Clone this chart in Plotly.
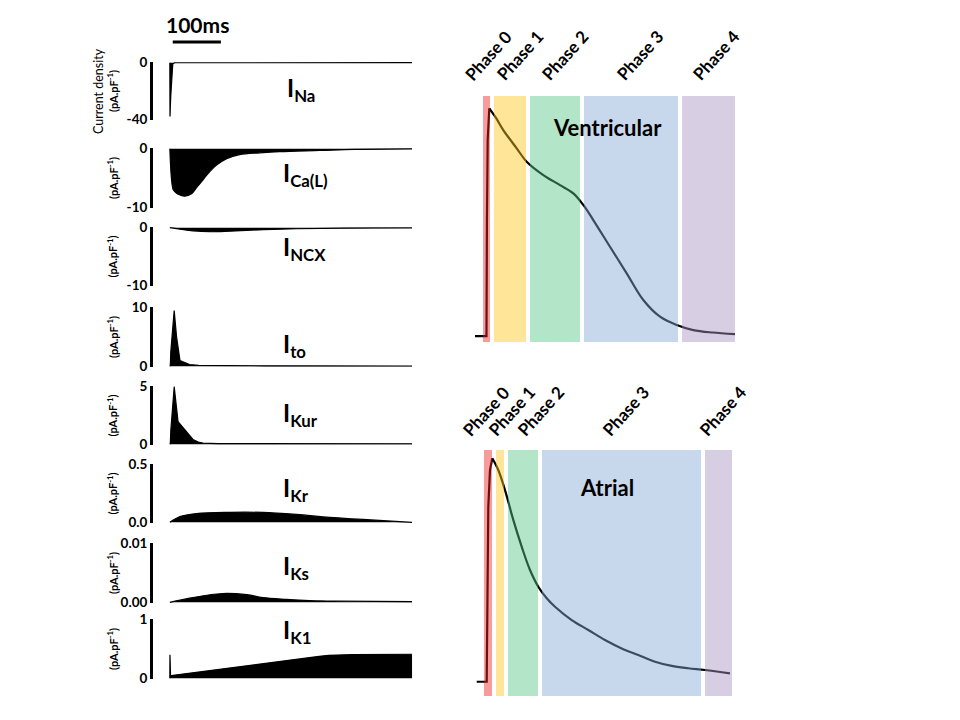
import plotly.graph_objects as go

FONT = "Lato"
W, H = 960, 720

# ---------------- data: membrane currents (pA/pF) vs time (ms) ----------------
t_na = [0, 0.3, 1, 2, 3, 4.5, 6, 10, 100, 200, 300, 400, 503]
i_na = [0, -38, -31, -23, -15, -7, -1, -0.05, 0, 0, 0, 0, 0]

t_ca = [0, 1, 3, 5, 7, 14, 21, 31, 45, 55, 69, 83, 97, 118, 145, 187, 228, 312, 384, 503]
i_ca = [0, -2.0, -4.8, -6.3, -7.0, -7.6, -7.9, -8.1, -7.7, -6.7, -5.3, -3.9, -2.8, -1.7, -1.0, -0.7, -0.5, -0.3, -0.12, -0.04]

t_ncx = [0, 21, 48, 83, 125, 194, 263, 367, 503]
i_ncx = [0, -0.25, -0.55, -0.7, -0.6, -0.35, -0.18, -0.08, -0.03]

t_to = [0, 1, 2, 9, 14, 21, 26, 31, 41, 60, 100, 200, 300, 400, 503]
i_to = [0, 0.2, 2.5, 9.5, 5.0, 1.0, 0.8, 0.6, 0.3, 0.15, 0.1, 0.08, 0.06, 0.05, 0.05]

t_kur = [0, 1, 2, 9, 17, 28, 38, 48, 59, 69, 100, 200, 300, 400, 503]
i_kur = [0, 0.1, 1.2, 5.0, 1.97, 1.41, 0.85, 0.42, 0.2, 0.1, 0.06, 0.05, 0.05, 0.05, 0.05]

t_kr = [0, 21, 55, 125, 193, 263, 332, 401, 503]
i_kr = [0, 0.05, 0.076, 0.087, 0.086, 0.068, 0.042, 0.025, 0.0]

t_ks = [0, 41, 77, 110, 160, 193, 243, 290, 350, 503]
i_ks = [0, 0.0007, 0.0012, 0.0015, 0.0013, 0.0008, 0.0005, 0.0003, 0.0002, 0.0001]

t_k1 = [0, 0.2, 1.5, 7, 90, 159, 228, 280, 310, 330, 350, 380, 503]
i_k1 = [0, 0.4, 0.04, 0.05, 0.14, 0.22, 0.29, 0.345, 0.375, 0.392, 0.40, 0.405, 0.41]

current_names = ["Na", "Ca(L)", "NCX", "to", "Kur", "Kr", "Ks", "K1"]
y_ranges = [[-40, 0], [-10, 0], [-10, 0], [0, 10], [0, 5], [0, 0.5], [0, 0.01], [0, 1]]
tick_vals = [[-40, 0], [-10, 0], [-10, 0], [0, 10], [0, 5], [0, 0.5], [0, 0.01], [0, 1]]
tick_text = [["-40", "0"], ["-10", "0"], ["-10", "0"], ["0", "10"], ["0", "5"],
             ["0.0", "0.5"], ["0.00", "0.01"], ["0", "1"]]

scale_bar_ms = 100
scale_bar_start = 6

# ---------------- data: action potentials (mV) vs time (ms) ----------------
t_vent = [-22.8, 1.0, 2.0, 3.5, 6.9, 20.8, 35.9, 63.8, 84.5, 119, 153.7, 181.3, 202.1,
          222.8, 257.5, 292.2, 326.7, 361.4, 396.1, 430.5, 470, 517.1]
v_vent = [-86.6, -86.6, -20, 25, 43.0, 37.5, 30.6, 20.2, 12.6, 5.0, -0.7, -5.4, -12.0,
          -20.6, -35.8, -50.9, -66.1, -75.6, -80.3, -83.2, -84.6, -85.5]
vent_peak_index = 4

t_atr = [-19.3, 1.5, 3.2, 4.8, 8.3, 13.1, 25.5, 39.5, 56.7, 74.1, 91.4, 108.6, 126.1,
         143.3, 178, 212.5, 247.1, 281.8, 316.3, 351, 385.7, 420.1, 454.8, 506.7]
v_atr = [-81.9, -81.9, -30, 17.7, 38.6, 45.3, 38.6, 27.2, 10.2, -5.0, -18.3, -27.8, -34.4,
         -39.2, -46.8, -52.4, -58.1, -62.9, -66.7, -70.5, -72.9, -74.2, -75.2, -77.1]
atr_peak_index = 5

phase_labels = ["Phase 0", "Phase 1", "Phase 2", "Phase 3", "Phase 4"]
vent_phase_start = [-6.2, 16.6, 91.4, 203.5, 407.1]
vent_phase_end = [8.3, 83.1, 195.2, 398.8, 517.1]
atr_phase_start = [-4.2, 20.8, 45.7, 116.3, 454.8]
atr_phase_end = [12.5, 37.4, 108.0, 446.5, 510.9]

# ---------------- styling ----------------
phase_colors = ["rgb(237,33,33)", "rgb(253,197,24)", "rgb(86,199,135)",
                "rgb(133,168,213)", "rgb(168,146,193)"]
band_opacity = 0.45


def pxx(x):
    return x / W


def pxy(y):
    return 1 - y / H


panel_top = [62, 148, 227, 307, 386, 464, 543, 619]
panel_bot = [120, 208, 286, 367, 445, 523, 603, 679]
label_y = [89, 174, 248, 345, 415, 489, 567, 631]
label_x = [285, 281, 281, 281, 281, 281, 281, 281]
shapes_line = ["linear", "spline", "spline", "linear", "linear", "spline", "spline", "linear"]

series_t = [t_na, t_ca, t_ncx, t_to, t_kur, t_kr, t_ks, t_k1]
series_v = [i_na, i_ca, i_ncx, i_to, i_kur, i_kr, i_ks, i_k1]

fig = go.Figure()
layout = dict(width=W, height=H, margin=dict(l=0, r=0, t=0, b=0, pad=0, autoexpand=False),
              paper_bgcolor="white", plot_bgcolor="white", showlegend=False,
              font=dict(family=FONT, color="black"))
annotations = []
shapes = []

for k in range(8):
    n = k + 1
    sfx = "" if n == 1 else str(n)
    fig.add_trace(go.Scatter(
        x=series_t[k], y=series_v[k], mode="lines", fill="tozeroy",
        line=dict(color="black", width=1.2, shape=shapes_line[k]),
        fillcolor="black", xaxis="x" + sfx, yaxis="y" + sfx, hoverinfo="skip"))
    lo, hi = y_ranges[k]
    pad = 0.012 * (hi - lo)
    layout["xaxis" + sfx] = dict(domain=[pxx(153), pxx(413)], range=[-35, 505],
                                 visible=False, anchor="y" + sfx, fixedrange=True,
                                 automargin=False)
    layout["yaxis" + sfx] = dict(
        domain=[pxy(panel_bot[k]), pxy(panel_top[k])], range=[lo - pad, hi + pad],
        anchor="x" + sfx, showline=True, linewidth=3, linecolor="black",
        ticks="inside", ticklen=7, tickwidth=3, tickcolor="black",
        tickvals=tick_vals[k], ticktext=tick_text[k],
        tickfont=dict(family=FONT, size=13.5, color="black", weight="bold"),
        showgrid=False, zeroline=False, fixedrange=True, automargin=False)
    annotations.append(dict(
        text="I<sub>%s</sub>" % current_names[k], x=pxx(label_x[k]), y=pxy(label_y[k]),
        xref="paper", yref="paper", xanchor="left", yanchor="middle", showarrow=False,
        font=dict(family=FONT, size=24, color="black", weight="bold")))
    annotations.append(dict(
        text="(pA.pF<sup>-1</sup>)", x=pxx(112), y=pxy((panel_top[k] + panel_bot[k]) / 2),
        xref="paper", yref="paper", xanchor="center", yanchor="middle", showarrow=False,
        textangle=-90, font=dict(family=FONT, size=11, color="black", weight="bold")))

annotations.append(dict(
    text="Current density", x=pxx(98), y=pxy(91), xref="paper", yref="paper",
    xanchor="center", yanchor="middle", showarrow=False, textangle=-90,
    font=dict(family=FONT, size=12.5, color="black")))

# scale bar
shapes.append(dict(type="line", xref="x", yref="paper",
                   x0=scale_bar_start, x1=scale_bar_start + scale_bar_ms,
                   y0=pxy(42), y1=pxy(42), line=dict(color="black", width=3)))
annotations.append(dict(
    text="%dms" % scale_bar_ms, x=pxx(197), y=pxy(25), xref="paper", yref="paper",
    xanchor="center", yanchor="middle", showarrow=False,
    font=dict(family=FONT, size=21, color="black", weight="bold")))

# action potentials
ap_sets = [
    (t_vent, v_vent, vent_peak_index, vent_phase_start, vent_phase_end, 96, 342,
     "Ventricular", [488.5, 520, 565, 640, 716], 56, 127),
    (t_atr, v_atr, atr_peak_index, atr_phase_start, atr_phase_end, 450, 696,
     "Atrial", [485.5, 511, 540, 625, 722], 411, 487),
]
for j, (tt, vv, pk, ps, pe, ytop, ybot, title, lab_xs, lab_y, title_y) in enumerate(ap_sets):
    n = 9 + j
    sfx = str(n)
    # resting + upstroke (sharp) then repolarisation (smooth)
    fig.add_trace(go.Scatter(
        x=tt[:pk + 1], y=vv[:pk + 1], mode="lines",
        line=dict(color="black", width=2.2, shape="linear"),
        xaxis="x" + sfx, yaxis="y" + sfx, hoverinfo="skip"))
    fig.add_trace(go.Scatter(
        x=tt[pk:], y=vv[pk:], mode="lines",
        line=dict(color="black", width=2.2, shape="spline", smoothing=1.0),
        xaxis="x" + sfx, yaxis="y" + sfx, hoverinfo="skip"))
    layout["xaxis" + sfx] = dict(domain=[pxx(474), pxx(740)], range=[-24.9, 527.5],
                                 visible=False, anchor="y" + sfx, fixedrange=True,
                                 automargin=False)
    layout["yaxis" + sfx] = dict(domain=[pxy(ybot), pxy(ytop)], range=[-90, 50],
                                 visible=False, anchor="x" + sfx, fixedrange=True,
                                 automargin=False)
    for p in range(5):
        shapes.append(dict(type="rect", xref="x" + sfx, yref="y" + sfx + " domain",
                           x0=ps[p], x1=pe[p], y0=0, y1=1, fillcolor=phase_colors[p],
                           opacity=band_opacity, line=dict(width=0), layer="above"))
        annotations.append(dict(
            text=phase_labels[p], x=pxx(lab_xs[p]), y=pxy(lab_y), xref="paper",
            yref="paper", xanchor="center", yanchor="middle", showarrow=False,
            textangle=-48, font=dict(family=FONT, size=17, color="black", weight="bold")))
    annotations.append(dict(
        text=title, x=pxx(607), y=pxy(title_y), xref="paper", yref="paper",
        xanchor="center", yanchor="middle", showarrow=False,
        font=dict(family=FONT, size=22, color="black", weight="bold")))

layout["annotations"] = annotations
layout["shapes"] = shapes
fig.update_layout(**layout)
fig.write_html("out.html")
